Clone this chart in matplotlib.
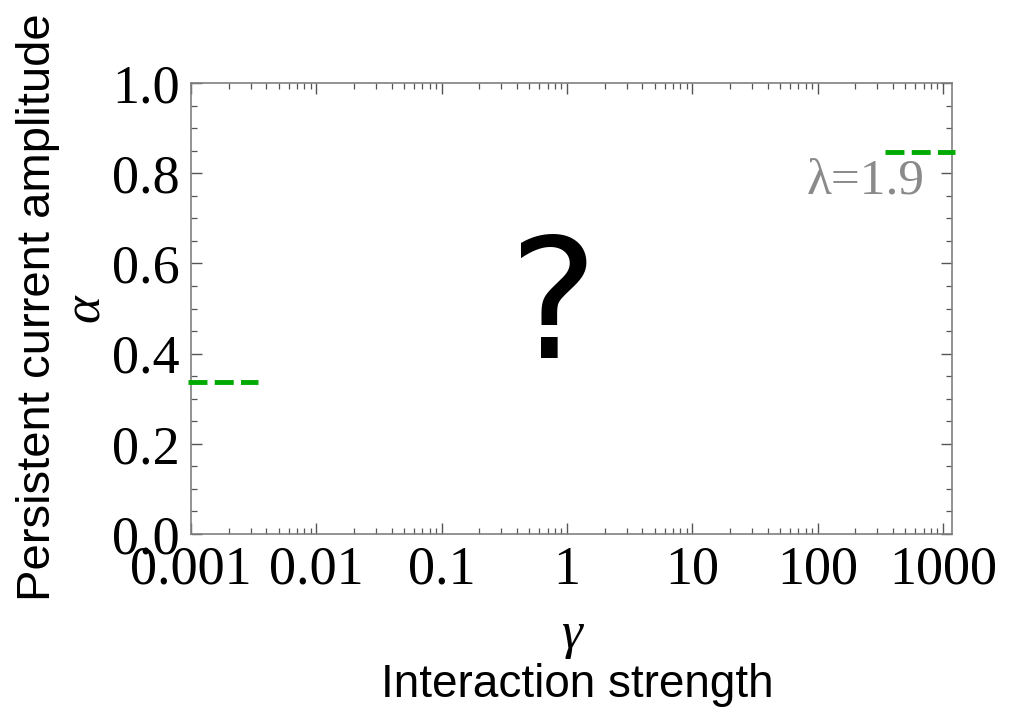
import numpy as np
import matplotlib
matplotlib.use("Agg")
import matplotlib.pyplot as plt
from matplotlib.ticker import FixedLocator, FixedFormatter, MultipleLocator, LogLocator, NullFormatter

# known limits of the persistent current amplitude
gamma_weak = [0.00095, 0.0034]
alpha_weak = [0.337, 0.337]
gamma_strong = [345, 1250]
alpha_strong = [0.847, 0.847]
lam_label = "λ=1.9"

x_ticks = [0.001, 0.01, 0.1, 1, 10, 100, 1000]
x_ticklabels = ["0.001", "0.01", "0.1", "1", "10", "100", "1000"]
y_ticks = [0.0, 0.2, 0.4, 0.6, 0.8, 1.0]
y_ticklabels = ["0.0", "0.2", "0.4", "0.6", "0.8", "1.0"]

W, H = 1015, 708
fig = plt.figure(figsize=(W / 100, H / 100), dpi=100)
ax = fig.add_axes([191 / W, 1 - 534 / H, (952 - 191) / W, (534 - 83) / H])

ax.set_xscale("log")
ax.set_xlim(0.001, 1180)
ax.set_ylim(0, 1.0)

green = "#00aa00"
for gx, gy in [(gamma_weak, alpha_weak), (gamma_strong, alpha_strong)]:
    ax.plot(gx, gy, color=green, lw=3.5, dashes=(3.9, 1.5),
            dash_capstyle="butt", clip_on=False, zorder=3)

ax.text(720, 0.756, lam_label, ha="right", va="baseline", color="#8a8a8a",
        fontsize=37, family="Liberation Serif")

ax.text(0.477, 0.39, "?", transform=ax.transAxes, ha="center", va="baseline",
        fontsize=121, family="DejaVu Sans", color="black")

# axes frame and ticks
for s in ax.spines.values():
    s.set_color("#808080")
    s.set_linewidth(1.2)
ax.xaxis.set_major_locator(FixedLocator(x_ticks))
ax.xaxis.set_major_formatter(FixedFormatter(x_ticklabels))
ax.xaxis.set_minor_locator(LogLocator(base=10, subs=np.arange(2, 10), numticks=100))
ax.xaxis.set_minor_formatter(NullFormatter())
ax.yaxis.set_major_locator(FixedLocator(y_ticks))
ax.yaxis.set_major_formatter(FixedFormatter(y_ticklabels))
ax.yaxis.set_minor_locator(MultipleLocator(0.05))
ax.tick_params(which="both", direction="in", top=True, right=True,
               color="#555555", labelsize=39, labelcolor="black")
ax.tick_params(which="major", length=8, width=1.0, pad=8)
ax.tick_params(which="minor", length=4.5, width=0.9)
for lab in ax.get_xticklabels() + ax.get_yticklabels():
    lab.set_family("Liberation Serif")

fig.text(86 / W, 1 - 308 / H, "α", rotation=90, ha="center", va="center",
         fontsize=38, family="Liberation Serif", style="italic")
fig.text(38 / W, 1 - 307 / H, "Persistent current amplitude", rotation=90,
         ha="center", va="center", fontsize=34, family="Liberation Sans")
fig.text(571 / W, 1 - 648 / H, "γ", ha="center", va="baseline",
         fontsize=38, family="Liberation Serif", style="italic")
fig.text(577 / W, 1 - 697 / H, "Interaction strength", ha="center",
         va="baseline", fontsize=33, family="Liberation Sans")

fig.savefig("out.png", dpi=100)
